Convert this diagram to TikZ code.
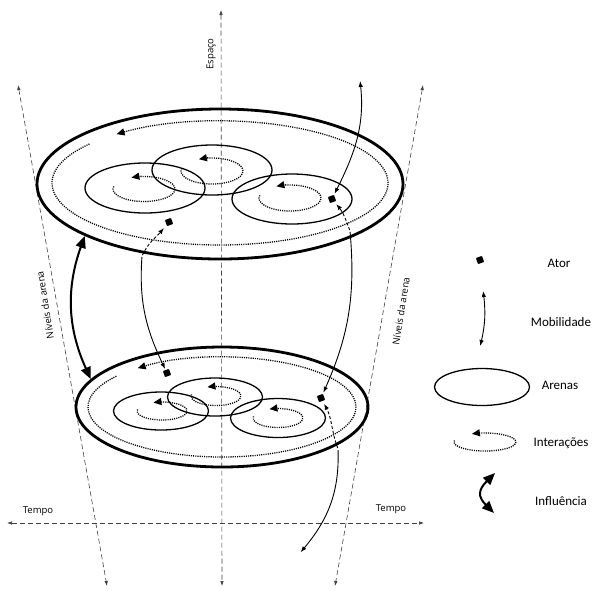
\documentclass[tikz,border=0pt]{standalone}
\usepackage{fontspec}
\setmainfont{Carlito}
\newfontfamily\axisfont{Open Sans}
\usetikzlibrary{arrows.meta, shapes.geometric, calc}

\begin{document}
\begin{tikzpicture}[x=1pt, y=-1pt,
    axis/.style={draw=black!75, line width=0.6pt, dash pattern=on 5pt off 3pt, >={Latex[length=5pt,width=3.5pt]}},
    level/.style={draw, ellipse, line width=2.8pt, inner sep=0pt},
    arena/.style={draw, ellipse, line width=1.3pt, inner sep=0pt},
    ator/.style={fill, rectangle, minimum size=6.5pt, inner sep=0pt, rotate=20, rounded corners=0.8pt},
    mob/.style={line width=0.9pt, >={Latex[length=6pt,width=4.5pt]}, shorten >=1pt, shorten <=1pt},
    hid/.style={mob, dash pattern=on 3pt off 2pt},
    inter/.style={line width=1.3pt, dash pattern=on 1.1pt off 1.1pt, ->, >={Triangle[length=8pt,width=7pt]}},
    infl/.style={line width=2pt, <->, >={Triangle[length=12pt,width=10pt]}},
    lbl/.style={font=\axisfont\fontsize{9.5}{11}\selectfont},
    leg/.style={font=\fontsize{13}{15}\selectfont}]
    \useasboundingbox (0,0) rectangle (593,590);

    % axes
    \coordinate (espT) at (221,10);
    \coordinate (espB) at (222,586);
    \coordinate (nivLT) at (18,85);
    \coordinate (nivLB) at (107,586);
    \coordinate (nivRT) at (423,85);
    \coordinate (nivRB) at (335,586);
    \coordinate (tempoL) at (7,523);
    \coordinate (tempoR) at (424,523);
    \draw[axis, <->] (espT) -- (espB);
    \draw[axis, <->] (nivLT) -- (nivLB);
    \draw[axis, <->] (nivRT) -- (nivRB);
    \draw[axis, <->] (tempoL) -- (tempoR);
    \node[lbl, rotate=90] (espaco) at (211,54) {Espaço};
    \node[lbl, rotate=99] (nivL) at (45,305) {Níveis da arena};
    \node[lbl, rotate=81] (nivR) at (401,311) {Níveis da arena};
    \node[lbl] (tempoE) at (38,511) {Tempo};
    \node[lbl] (tempoD) at (391,509) {Tempo};

    % top level
    \node[level, minimum width=366pt, minimum height=150pt] (top) at (220,184) {};
    \node[arena, minimum width=120pt, minimum height=50pt] (topL) at (145,188) {};
    \node[arena, minimum width=120pt, minimum height=50pt] (topM) at (212,170) {};
    \node[arena, minimum width=120pt, minimum height=50pt] (topR) at (292,199) {};
    \draw[inter] ($(220,183)+(141:168pt and 62pt)$) arc[start angle=141, end angle=488, x radius=168pt, y radius=62pt];
    \draw[inter] ($(144,189)+(168:31pt and 12.5pt)$) arc[start angle=168, end angle=474, x radius=31pt, y radius=12.5pt];
    \draw[inter] ($(212,171)+(168:31pt and 13pt)$) arc[start angle=168, end angle=475, x radius=31pt, y radius=13pt];
    \draw[inter] ($(290,198)+(168:31pt and 13pt)$) arc[start angle=168, end angle=476, x radius=31pt, y radius=13pt];

    % bottom level
    \node[level, minimum width=292pt, minimum height=120pt] (bot) at (222,407) {};
    \node[arena, minimum width=95pt, minimum height=38pt] (botL) at (161,411) {};
    \node[arena, minimum width=95pt, minimum height=38pt] (botM) at (215,397) {};
    \node[arena, minimum width=95pt, minimum height=39pt] (botR) at (278,418) {};
    \draw[inter] ($(222,407)+(142:134pt and 50pt)$) arc[start angle=142, end angle=489, x radius=134pt, y radius=50pt];
    \draw[inter] ($(162,411)+(170:25pt and 9pt)$) arc[start angle=170, end angle=470, x radius=25pt, y radius=9pt];
    \draw[inter] ($(216,396)+(170:25pt and 9.5pt)$) arc[start angle=170, end angle=470, x radius=25pt, y radius=9.5pt];
    \draw[inter] ($(278,418)+(170:25pt and 9.5pt)$) arc[start angle=170, end angle=470, x radius=25pt, y radius=9.5pt];

    % actors
    \node[ator] (atorA) at (169,222) {};
    \node[ator] (atorB) at (332,199) {};
    \node[ator] (atorC) at (167,373) {};
    \node[ator] (atorD) at (321,398) {};

    % mobility
    \coordinate (mobT) at (360,80);
    \coordinate (hidA) at (142,256);
    \coordinate (hidB) at (350,231);
    \coordinate (hidD) at (338,449);
    \coordinate (mobB) at (300,553);
    \draw[mob, <->] (mobT) to[out=-84, in=62] (atorB);
    \draw[mob, ->] (hidA) to[out=-94, in=114] (atorC);
    \draw[hid, ->, shorten >=4pt] (hidA) to[out=65, in=-135] (atorA);
    \draw[mob, ->] (hidB) to[out=-85, in=65] (atorD);
    \draw[hid, ->, shorten >=3pt] (hidB) to[out=110, in=-55] (atorB);
    \draw[mob, ->] (hidD) to[out=-88, in=50] (mobB);
    \draw[hid, ->, shorten >=3pt] (hidD) to[out=110, in=-65] (atorD);

    % influence
    \draw[infl] (top.201) to[bend right=22] (bot.168);

    % legend
    \node[ator] (legAtor) at (480,260) {};
    \node[leg] (tAtor) at (559,263) {Ator};
    \coordinate (legMobT) at (483,290);
    \coordinate (legMobB) at (480,347);
    \draw[mob, <->] (legMobT) to[bend left=10] (legMobB);
    \node[leg] (tMob) at (561,322) {Mobilidade};
    \node[arena, minimum width=95pt, minimum height=37pt] (legArena) at (482,387) {};
    \node[leg] (tArena) at (560,385) {Arenas};
    \draw[inter] ($(485,442)+(170:31pt and 9pt)$) arc[start angle=170, end angle=475, x radius=31pt, y radius=9pt];
    \node[leg] (tInter) at (561,443) {Interações};
    \coordinate (legInfT) at (495,473);
    \coordinate (legInfB) at (494,513);
    \draw[infl] (legInfT) to[out=225, in=135, looseness=1.5] (legInfB);
    \node[leg] (tInfl) at (561,501) {Influência};
\end{tikzpicture}
\end{document}
